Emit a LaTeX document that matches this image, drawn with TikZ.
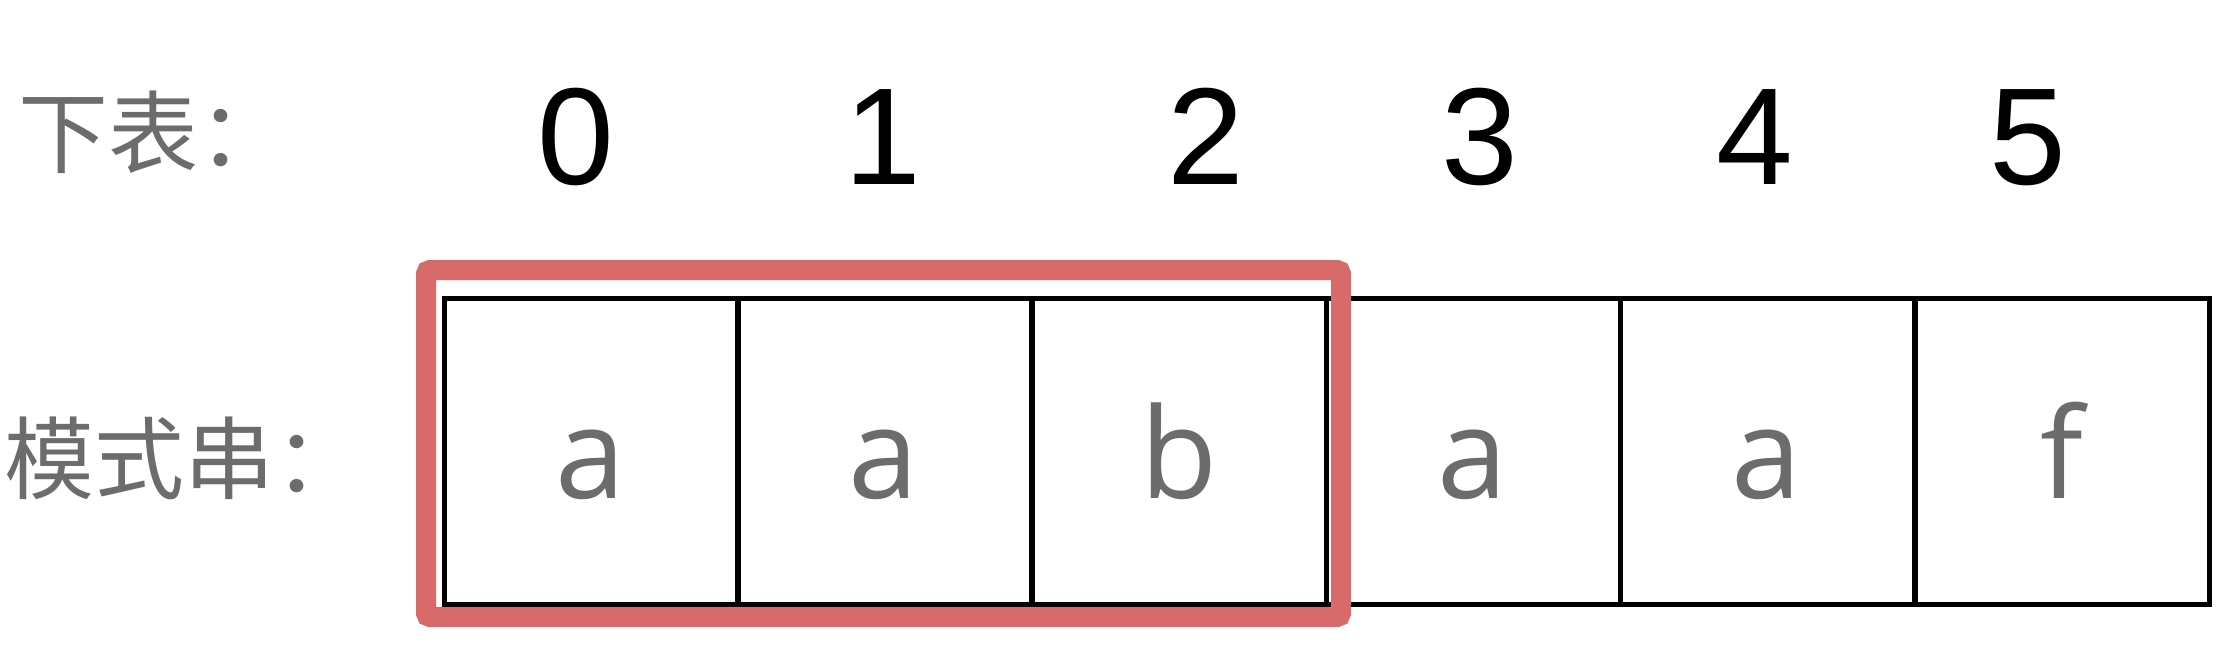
\documentclass[tikz,border=0pt]{standalone}
\usepackage{fontspec}
\setmainfont{Liberation Sans}
\newfontfamily\cellfont{Open Sans}
\newfontfamily\cjk{Noto Sans CJK SC}
\definecolor{redline}{RGB}{217,106,106}
\definecolor{txtgray}{RGB}{108,108,108}
\tikzset{
  cell/.style={draw=black, line width=5pt, minimum width=294pt, minimum height=306pt,
    inner sep=0pt, font=\cellfont\fontsize{126}{126}\selectfont, text=txtgray,
    text height=94pt, text depth=0pt},
  idx/.style={inner sep=0pt, anchor=base, font=\fontsize{138}{138}\selectfont, text=black},
  lbl/.style={inner sep=0pt, anchor=west, font=\cjk\fontsize{90}{90}\selectfont, text=txtgray},
  redbox/.style={draw=redline, line width=20pt, rounded corners=4pt, inner sep=0pt}
}
\begin{document}
\begin{tikzpicture}[x=1pt,y=-1pt]
\useasboundingbox (0,0) rectangle (2234,648);
\node[lbl] (l1) at (18,132) {下表：};
\node[lbl] (l2) at (4,458) {模式串：};
\node[idx] (i0) at (576,184) {0};
\node[idx] (i1) at (883,184) {1};
\node[idx] (i2) at (1206,184) {2};
\node[idx] (i3) at (1480,184) {3};
\node[idx] (i4) at (1755,184) {4};
\node[idx] (i5) at (2028,184) {5};
\node[cell] (c0) at (591,451) {a};
\node[cell] (c1) at (884,451) {a};
\node[cell] (c2) at (1179,451) {b};
\node[cell] (c3) at (1473,451) {a};
\node[cell] (c4) at (1767,451) {a};
\node[cell] (c5) at (2062,451) {f};
\node[redbox, minimum width=915pt, minimum height=347pt] (rb) at (883.5,443.5) {};
\end{tikzpicture}
\end{document}
